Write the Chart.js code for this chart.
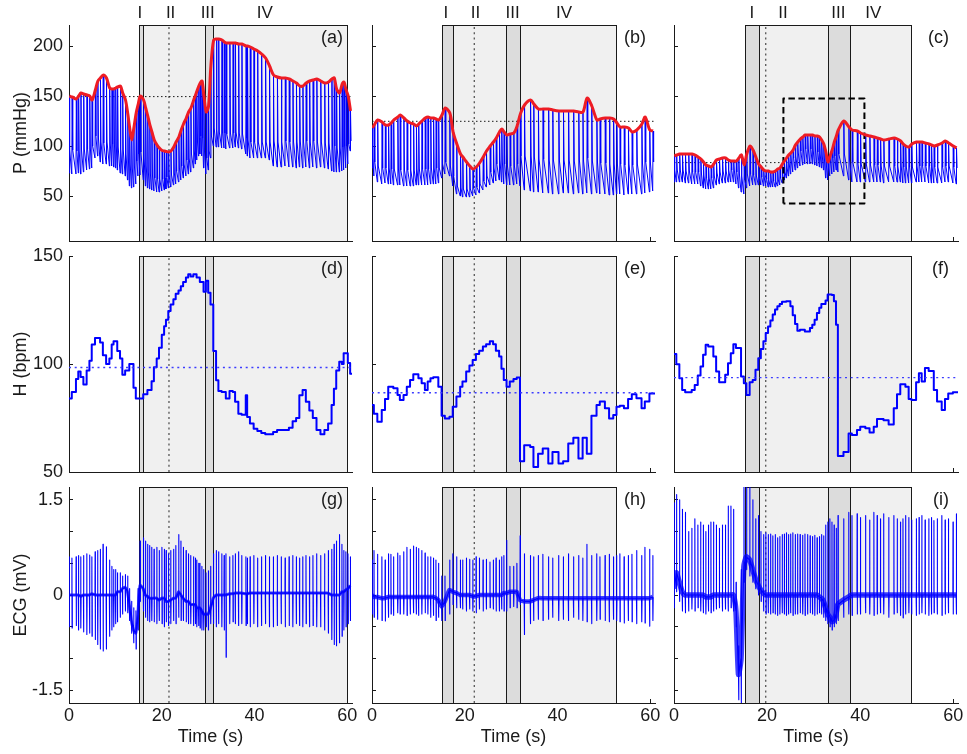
<!DOCTYPE html>
<html>
<head>
<meta charset="utf-8">
<title>Pressure, heart rate and ECG</title>
<script src="https://cdn.jsdelivr.net/npm/chart.js"></script>
<style>
  body { margin: 0; background: #fff; }
  #fig { position: relative; width: 967px; height: 754px; overflow: hidden; background: #fff; }
  #fig canvas { position: absolute; }
</style>
</head>
<body>
<div id="fig"></div>
<script>
// ---- subject 1 : panels (a) (d) (g) ----  one entry per beat
const t1 = [0,0.6,1.5,2,2.5,3.1,3.8,4.4,4.9,5.6,
  6.15,6.7,7.3,8,8.7,9.2,9.6,10,10.4,11,
  11.5,12.1,12.6,13,13.45,13.9,14.4,14.85,15.3,16,
  16.45,16.9,17.35,17.8,18.3,18.9,19.4,20,20.5,20.9,
  21.4,21.9,22.5,23,23.6,24.1,24.6,25.2,25.7,26.2,
  26.8,27.2,27.5,27.9,28.2,28.6,29,29.5,30,30.5,
  31.1,31.7,32.2,32.9,33.4,33.8,34.6,35.3,35.8,36.5,
  37.2,38.1,38.4,39,39.8,40.6,41.45,42.3,43.15,44,
  44.85,45.7,46.55,47.4,48.2,48.95,49.65,50.35,51.05,51.8,
  52.55,53.35,54.2,55.05,55.85,56.6,57.1,57.6,58.25,58.8,
  59.2,59.65,60.1,60.6];
const hr1 = [84,87,93,96.5,94,90.5,97,101.5,109,112,
  112,110,104,100,102.5,109,110.5,110.5,106,102.5,
  95,97,97,100,100,89,84,84,84,86,
  86,88,88,92,98.5,102.5,107.5,113.5,117.5,120.5,
  124.5,127.5,130,132.5,134,136,138,140,141.5,140.5,
  141.5,141.5,140,140,138,138,133.5,138.5,133,127.5,
  106,92.5,87.5,87,87,84,87.5,87,82.5,77,
  76.5,85.5,75.5,72.5,70,69,68,67.5,67.5,68.5,
  69.5,69.5,69.5,70.5,73.5,75,85.5,88,82.5,78.5,
  75,69.5,67.5,69.5,72.5,81,88.5,97,101,100,
  105,105,100.5,95.5];
const sys1 = [150,149,147,150,153,152,151,150,146,156,
  165,168,171,168,158,157,157,158,159,160,
  153,146,132,118,106,118,133,142,150,146,
  138,130,121,114,106,101,98,95.5,95,94.5,
  94,95,99,104,109,116,122,128,134,138,
  146,151,155,160,163,165,150,134,140,180,
  206,207,207,206,204,203,203,203,203,202,
  202,200,200,199,197,195,192,188,180,171,
  169,168,168,167,165,163,160,160,163,165,
  166,167,165,163,164,167,168,157,153,162,
  164,156,150,135];
const dia1 = [73,72,72,73,72,74,76,77,78,88,
  90,84,82,82,80,80,79,78,76,73,
  72,70,66,60,58,59,62,70,71,66,
  60,58,57,56,55,54,54,55,56,57,
  58,59,61,62,64,66,68,70,72,74,
  78,82,86,90,92,90,78,72,76,88,
  100,99,99,98,98,97,98,98,99,98,
  97,92,90,88,88,88,88,88,86,80,
  79,79,80,79,79,78,79,78,79,78,
  79,78,79,78,77,75,74,74,74,75,
  76,78,82,95];
const dic1 = [96,96,95,95,96,97,97,98,100,110,
  108,104,103,104,102,102,101,100,99,97,
  96,92,88,82,78,80,85,92,94,88,
  80,74,72,70,68,67,67,67,68,69,
  70,71,73,75,78,80,82,86,88,92,
  96,100,104,108,110,108,95,88,95,110,
  118,116,114,113,113,112,113,113,114,113,
  112,108,106,104,104,104,104,104,104,105,
  104,104,105,104,104,104,105,104,105,104,
  105,104,104,103,103,100,100,98,98,99,
  100,100,102,105];
const ecgR1 = [.60,.58,.60,.62,.60,.62,.65,.63,.60,.68,
  .70,.72,.80,.76,.55,.45,.40,.40,.35,.35,
  .30,.32,.30,.10,-.10,-.20,-.25,.10,.85,.90,
  .85,.80,.78,.75,.72,.75,.70,.75,.72,.70,
  .65,.70,.72,.78,.95,.85,.75,.70,.65,.62,
  .60,.58,.55,.50,.50,.45,.40,.35,.38,.45,
  .65,.70,.68,.65,.62,.65,.60,.62,.65,.68,
  .62,.60,.58,.60,.62,.58,.60,.62,.60,.60,
  .62,.60,.58,.60,.62,.60,.58,.60,.62,.60,
  .62,.65,.62,.65,.70,.72,.80,.85,.95,.80,
  .70,.68,.65,.60];
const ecgS1 = [-.50,-.52,-.48,-.55,-.52,-.58,-.62,-.60,-.65,-.70,
  -.78,-.85,-.88,-.85,-.65,-.55,-.50,-.45,-.42,-.35,
  -.30,-.25,-.28,-.40,-.60,-.75,-.85,-.55,-.10,-.25,
  -.35,-.40,-.42,-.40,-.42,-.45,-.40,-.45,-.50,-.42,
  -.48,-.45,-.40,-.45,-.35,-.40,-.40,-.42,-.45,-.45,
  -.48,-.45,-.50,-.48,-.52,-.55,-.55,-.50,-.55,-.45,
  -.45,-.50,-.45,-.50,-.55,-.98,-.45,-.42,-.45,-.48,
  -.45,-.48,-.45,-.50,-.45,-.50,-.48,-.45,-.50,-.50,
  -.48,-.45,-.50,-.48,-.50,-.45,-.48,-.50,-.45,-.50,
  -.48,-.50,-.50,-.55,-.60,-.70,-.78,-.80,-.75,-.65,
  -.55,-.50,-.45,-.40];
const ecgB1 = [0,0,0,0,-.02,0,0,0,.02,0,
  0,0,0,0,0,0,0,0,.05,.05,
  .10,.12,.05,-.15,-.40,-.55,-.60,-.30,.15,.10,
  0,-.02,-.05,-.05,-.05,-.05,-.08,-.05,-.05,-.10,
  -.10,-.08,-.05,-.05,.05,0,-.05,-.10,-.10,-.15,
  -.15,-.15,-.20,-.20,-.20,-.25,-.30,-.30,-.30,-.20,
  -.05,0,0,0,0,0,.02,.02,.03,.03,
  .03,.02,.02,.03,.03,.03,.03,.03,.03,.03,
  .03,.03,.03,.03,.03,.03,.03,.03,.03,.03,
  .03,.03,.03,.03,.03,0,0,0,0,.05,
  .05,.08,.10,.15];

// ---- subject 2 : panels (b) (e) (h) ----
const t2 = [0,0.4,1.15,2.1,2.8,3.5,4.05,4.6,5.5,6,
  6.8,7.5,8.2,8.9,9.5,10,10.7,11.4,12,12.6,
  13.2,13.75,14.3,15,15.7,16.7,17.4,18.2,19,19.5,
  20.3,21,21.7,22.4,23.1,23.9,24.6,25.4,26.1,26.7,
  27.4,27.9,28.4,29,29.7,30.5,31.2,31.9,32.8,34.1,
  34.8,35.8,36.8,38,38.9,40.2,41.2,42.3,43.4,44.5,
  45.4,46.3,47.3,48.4,49.1,50.2,51.1,52,52.7,53.4,
  54.3,55.2,56,57,58.1,58.8,59.8,60.5];
const hr2 = [81,77,73.3,78.7,83.8,89.5,89.5,88.8,85.7,83.3,
  85.7,89.5,92.6,95.3,95.3,93.4,91.1,88,91.9,93.4,
  93.9,93.9,89.5,76,74.8,75.6,80.2,84.9,89.5,91.9,
  96.5,99.3,101.9,104.6,106.1,108.1,109.2,110.5,109.2,106.1,
  103.5,97.8,92.6,89.5,91.9,93.1,93.7,55,62.4,61.6,
  52.3,58.5,60.9,53.9,59.3,53.9,55,63.2,65.8,56.2,
  65.8,58.5,76,81,82.6,79.5,74.8,76.4,80.2,80.7,
  79.5,83.8,86,84.1,79.5,82.6,86.4,86.4];
const sys2 = [118,121,126,124,121,121,123,126,129,131,
  128,125,123,122,120,122,125,128,129,128,
  128,127,126,131,138,133,114,102,92,89,
  84,80,77,79,83,89,95,100,104,108,
  114,117,114,111,112,113,120,132,141,146,
  142,137,137,137,136,135,135,135,135,134,
  134,148,140,126,127,128,128,127,123,119,
  119,118,114,116,122,129,116,115];
const dia2 = [78,70,64,62,63,62,62,61,61,61,
  60,60,60,60,61,61,61,61,61,62,
  62,62,63,68,72,70,60,52,50,49,
  49,49,50,51,53,56,59,61,63,65,
  66,64,62,61,61,61,62,60,56,55,
  54,54,53,53,52,52,53,53,52,53,
  52,53,52,53,52,52,51,51,52,52,
  51,52,52,52,52,53,54,55];
const dic2 = [88,84,80,78,78,78,77,77,77,76,
  76,76,76,76,77,77,77,77,77,78,
  78,78,78,82,84,80,70,60,58,57,
  57,57,58,59,62,65,70,74,78,82,
  86,84,82,80,80,80,82,90,90,90,
  89,87,87,86,86,85,86,86,85,86,
  85,88,85,84,83,83,82,82,82,82,
  81,82,81,82,83,84,84,84];
const ecgR2 = [.55,.70,.64,.60,.55,.65,.64,.60,.66,.62,
  .68,.75,.72,.77,.75,.73,.70,.66,.60,.60,
  .58,.55,.50,.30,.30,.55,.65,.60,.55,.55,
  .58,.56,.55,.60,.58,.55,.56,.52,.55,.58,
  .55,.60,.62,.86,.45,.45,.50,.93,.65,.62,
  .60,.62,.64,.60,.58,.62,.60,.65,.60,.62,
  .58,.80,.62,.65,.60,.62,.64,.60,.62,.65,
  .60,.62,.64,.70,.62,.75,.72,.62];
const ecgS2 = [-.30,-.35,-.38,-.40,-.41,-.35,-.30,-.32,-.28,-.30,
  -.30,-.32,-.30,-.28,-.30,-.32,-.30,-.28,-.30,-.35,
  -.32,-.40,-.35,-.40,-.40,-.30,-.15,-.20,-.20,-.22,
  -.25,-.22,-.25,-.28,-.22,-.25,-.22,-.20,-.22,-.25,
  -.25,-.22,-.25,-.25,-.20,-.18,-.20,-.15,-.62,-.45,
  -.40,-.38,-.40,-.38,-.35,-.40,-.38,-.40,-.35,-.38,
  -.40,-.42,-.45,-.40,-.38,-.40,-.42,-.38,-.40,-.42,
  -.44,-.40,-.42,-.45,-.42,-.44,-.49,-.40];
const ecgB2 = [0,-.03,-.03,-.05,-.05,-.03,-.03,-.03,-.03,-.03,
  -.03,-.03,-.03,-.03,-.03,-.03,-.03,-.03,-.03,-.03,
  -.03,-.05,-.08,-.18,-.10,.08,.05,.03,0,0,
  0,0,-.02,-.02,0,0,0,0,0,0,
  0,0,.03,.03,.05,.05,.05,-.08,-.10,-.10,
  -.08,-.05,-.05,-.05,-.05,-.05,-.05,-.05,-.05,-.05,
  -.05,-.05,-.05,-.05,-.05,-.05,-.05,-.05,-.05,-.05,
  -.05,-.05,-.05,-.05,-.05,-.05,-.05,-.03];

// ---- subject 3 : panels (c) (f) (i) ----
const t3 = [0,0.5,1.15,1.75,2.4,3.1,3.8,4.45,5.1,5.7,
  6.25,6.8,7.35,7.9,8.45,9.05,9.7,10.35,11,11.6,
  12.2,12.75,13.3,13.85,14.4,15,15.55,16.25,16.9,17.5,
  18.1,18.65,19.2,19.7,20.2,20.7,21.2,21.7,22.2,22.7,
  23.2,23.65,24.1,24.55,25,25.5,26,26.5,27.05,27.6,
  28.1,28.65,29.2,29.7,30.2,30.7,31.2,31.65,32.1,32.55,
  33,33.45,33.9,34.35,34.8,35.2,36.4,37.5,38.2,39.3,
  40,41.1,42,42.9,43.6,44.3,45,46.1,47.2,47.9,
  48.6,49.15,49.7,50.4,51,52,52.6,53.2,53.9,54.7,
  55.25,55.8,56.5,57.5,58.2,58.9,59.9,60.6];
const hr3 = [104.6,99.9,93.4,88,86.9,86.9,88,90.3,94.7,98.8,
  104.3,108.9,108.1,108.1,103.5,96.5,91.6,91.6,95,100.4,
  105,109.2,107.4,107.4,94.2,91.1,85.7,91.6,92.6,97.3,
  102.7,107,110.5,114.3,117.4,120.1,122.9,125.2,126.7,127.8,
  128.8,128.8,129.1,129.1,126.7,122.6,118.5,115.4,115.9,115.9,
  115.1,115.1,116.7,118.2,120.5,123.6,126,127.8,127.8,129.4,
  132.2,132.2,131.9,129.1,118.2,57.4,59.3,67.8,67.1,69.4,
  70.9,70.2,68.3,70.9,74.5,74.5,74,72,79.5,86,
  90.6,90.6,89.5,83.8,83.3,91.6,95.7,91.9,98.1,96.8,
  96.8,88,82.6,78.7,83.8,86.4,86.9,86.9];
const sys3 = [90,91,92,92,92,92,92,91,89,87,
  84,81,80,79,82,86,87,88,88,86,
  85,85,85,88,91,81,92,100,96,89,
  82,79,76,75,75,74,74,75,77,78,
  82,85,88,91,93,96,101,104,107,109,
  111,111,111,111,110,110,109,106,102,94,
  84,90,96,104,110,116,125,119,116,115,
  113,111,110,109,108,107,106,107,108,107,
  105,102,100,99,102,104,104,104,103,102,
  101,100,101,103,105,103,100,98];
const dia3 = [64,64,64,64,63,63,62,62,62,60,
  58,57,57,57,58,61,62,63,63,64,
  64,64,62,58,54,52,58,60,61,61,
  61,61,60,60,59,59,59,59,60,61,
  63,66,68,70,72,74,76,78,80,81,
  82,82,82,82,81,80,79,78,76,68,
  66,70,72,74,76,74,70,66,64,64,
  64,64,64,64,64,64,63,64,64,64,
  64,63,63,63,63,64,64,64,64,63,
  63,63,63,63,64,64,63,62];
const dic3 = [76,76,76,76,75,75,74,74,74,72,
  70,68,68,68,70,73,74,75,75,76,
  76,76,74,72,70,66,72,72,71,70,
  69,69,68,67,66,65,65,65,66,68,
  71,74,78,82,85,88,90,93,95,96,
  97,97,97,96,95,94,92,90,88,80,
  78,84,88,90,92,92,92,86,84,83,
  82,82,81,81,81,80,80,80,80,80,
  80,79,79,79,79,80,80,80,80,80,
  79,79,79,79,80,80,79,78];
const ecgR3 = [1.45,1.58,1.5,1.35,1.3,1.0,1.05,1.2,1.1,1.15,
  1.1,1.0,1.1,1.15,1.15,1.1,1.05,1.1,1.1,1.4,
  1.4,1.35,.2,-.8,.4,1.8,1.8,1.8,1.5,1.2,
  1.25,1.0,.95,.98,.95,.96,.93,.95,.9,.92,
  .95,.96,.98,.95,.96,.98,.95,.96,.95,.94,
  .96,.95,.93,.92,.94,.9,.92,.95,.93,1.1,
  1.15,1.2,1.15,1.1,1.05,1.25,1.2,1.3,1.25,1.28,
  1.22,1.25,1.18,1.3,1.25,1.2,1.28,1.22,1.25,1.2,
  1.15,1.2,1.25,1.22,1.18,1.2,1.22,1.25,1.18,1.2,
  1.22,1.17,1.2,1.25,1.18,1.2,1.15,1.28];
const ecgS3 = [-.2,.05,-.1,-.25,-.28,-.25,-.22,-.25,-.2,-.25,
  -.28,-.3,-.25,-.28,-.25,-.22,-.2,-.25,-.22,-.25,
  -.2,-.25,-.5,-1.65,-1.7,.2,.4,.3,.2,.1,
  0,-.1,-.25,-.3,-.28,-.3,-.28,-.3,-.32,-.3,
  -.28,-.3,-.32,-.3,-.28,-.32,-.3,-.3,-.28,-.3,
  -.32,-.3,-.28,-.3,-.32,-.3,-.28,-.3,-.35,-.4,
  -.45,-.5,-.55,-.5,-.45,-.4,-.35,-.3,-.32,-.3,
  -.3,-.28,-.3,-.32,-.3,-.28,-.3,-.35,-.3,-.28,
  -.32,-.36,-.3,-.28,-.3,-.32,-.3,-.28,-.3,-.32,
  -.3,-.28,-.3,-.32,-.3,-.28,-.3,-.3];
const ecgB3 = [.1,.35,.2,.05,0,0,0,0,0,0,
  0,-.03,-.03,-.03,0,0,0,0,0,0,
  0,0,-.25,-1.25,-1.0,.45,.6,.55,.4,.25,
  .15,.08,.03,0,0,0,0,0,0,0,
  0,0,0,0,0,0,0,0,0,0,
  0,0,0,0,0,0,-.03,-.05,-.1,-.2,
  -.3,-.35,-.42,-.4,-.3,-.15,-.08,-.03,0,0,
  0,0,0,0,0,0,0,0,0,0,
  0,0,0,0,0,0,0,0,0,0,
  0,0,0,0,0,0,0,0];

// ---- phases (s) and reference levels, per subject ----
const iStart   = [15.15, 15.15, 15.24];
const iEnd     = [15.89, 17.39, 18.26];
const iiTime   = [21.55, 22.05, 19.7];
const iiiStart = [29.38, 28.82, 33.06];
const iiiEnd   = [31.1, 31.9, 37.72];
const ivEnd    = [59.86, 52.52, 50.95];
const phaseNames = ['I', 'II', 'III', 'IV'];
const phaseLabelT = [[15.3, 21.9, 29.9, 42.2], [15.9, 22.3, 30.3, 41.4], [16.7, 23.4, 35.3, 42.8]];
const pRef  = [149.4, 124.7, 83.4];
const hrRef = [98.4, 86.7, 93.7];
const ecgNoise = [3, 4.5, 5.5];   // thickness (px) of the noisy ECG baseline band
const zoomBoxT = [23.5, 40.9];
const zoomBoxP = [42.4, 147.4];
const letters = [['(a)', '(b)', '(c)'], ['(d)', '(e)', '(f)'], ['(g)', '(h)', '(i)']];

const beatT = [t1, t2, t3], hrs = [hr1, hr2, hr3];
const sys = [sys1, sys2, sys3], dia = [dia1, dia2, dia3], dic = [dic1, dic2, dic3];
const ecgR = [ecgR1, ecgR2, ecgR3], ecgS = [ecgS1, ecgS2, ecgS3], ecgB = [ecgB1, ecgB2, ecgB3];

const T_MAX = 61;
const FONT = "'Liberation Sans', Arial, Helvetica, sans-serif";
const INK = '#1a1a1a';
Chart.defaults.font.family = FONT;
Chart.defaults.color = INK;

// panel layout (page pixels)
const colX = [[69, 352], [372, 655], [674, 958]];
const rowY = [[25, 241], [256, 472], [487, 703]];
const PAD_L = 69, PAD_T = 25, PAD_R = 12, PAD_B = 52;

const rows = [
  { min: 5, max: 221, ticks: [50, 100, 150, 200], labels: [50, 100, 150, 200], title: 'P (mmHg)' },
  { min: 50, max: 150, ticks: [50, 100, 150], labels: [50, 100, 150], title: 'H (bpm)' },
  { min: -1.7, max: 1.7, ticks: [-1.5, -1, -0.5, 0, 0.5, 1, 1.5], labels: [-1.5, 0, 1.5], title: 'ECG (mV)' }
];

const decor = {
  id: 'decor',
  beforeDatasetsDraw(chart, args, o) {
    const { ctx, chartArea: a } = chart;
    const x = chart.scales.x;
    const px = v => Math.round(x.getPixelForValue(v)) + 0.5;
    const top = Math.round(a.top) + 0.5, bot = Math.round(a.bottom) + 0.5;
    ctx.save();
    ctx.strokeStyle = INK;
    ctx.lineWidth = 1;
    const box = (t0, t1, fill) => {
      ctx.fillStyle = fill;
      ctx.fillRect(px(t0), top, px(t1) - px(t0), bot - top);
      ctx.strokeRect(px(t0), top, px(t1) - px(t0), bot - top);
    };
    box(iStart[o.k], ivEnd[o.k], '#f0f0f0');
    box(iStart[o.k], iEnd[o.k], '#dcdcdc');
    box(iiiStart[o.k], iiiEnd[o.k], '#dcdcdc');
    ctx.restore();
  },
  afterDraw(chart, args, o) {
    const { ctx, chartArea: a } = chart;
    ctx.save();
    ctx.fillStyle = INK;
    ctx.font = '18px ' + FONT;
    ctx.textAlign = 'right';
    ctx.textBaseline = 'alphabetic';
    ctx.fillText(o.letter, a.right - 9, a.top + 18);
    if (o.top) {
      ctx.font = '17px ' + FONT;
      ctx.textAlign = 'center';
      phaseNames.forEach((n, j) => {
        ctx.fillText(n, chart.scales.x.getPixelForValue(phaseLabelT[o.k][j]), a.top - 7);
      });
    }
    ctx.restore();
  }
};

function iiLine(k, r) {
  return { data: [{ x: iiTime[k], y: r.min }, { x: iiTime[k], y: r.max }],
    borderColor: '#555', borderWidth: 1.3, borderDash: [2, 3.3], order: 6 };
}

function pressureSets(k) {
  const wave = [], env = [];
  beatT[k].forEach((t, i) => {
    wave.push({ x: t, y: dia[k][i] }, { x: t + 0.08, y: sys[k][i] }, { x: t + 0.2, y: dic[k][i] });
    env.push({ x: t + 0.08, y: sys[k][i] });
  });
  const sets = [
    { data: env, borderColor: '#ee1c24', borderWidth: 3, tension: 0.3, order: 0 },
    { data: wave, borderColor: '#0000ff', borderWidth: 1, order: 3 },
    { data: [{ x: 0, y: pRef[k] }, { x: T_MAX, y: pRef[k] }], borderColor: INK, borderWidth: 1, borderDash: [1.5, 2.5], order: 4 },
    iiLine(k, rows[0])
  ];
  if (k === 2) {
    sets.push({ data: [
      { x: zoomBoxT[0], y: zoomBoxP[0] }, { x: zoomBoxT[0], y: zoomBoxP[1] },
      { x: zoomBoxT[1], y: zoomBoxP[1] }, { x: zoomBoxT[1], y: zoomBoxP[0] },
      { x: zoomBoxT[0], y: zoomBoxP[0] }],
      borderColor: '#000', borderWidth: 2, borderDash: [6.5, 3.5], order: 0 });
  }
  return sets;
}

function heartSets(k) {
  const pts = beatT[k].map((t, i) => ({ x: t, y: hrs[k][i] }));
  pts.push({ x: T_MAX, y: hrs[k][hrs[k].length - 1] });
  return [
    { data: [{ x: 0, y: hrRef[k] }, { x: T_MAX, y: hrRef[k] }], borderColor: '#3c3cff', borderWidth: 1.4, borderDash: [2, 3.7], order: 1 },
    { data: pts, borderColor: '#0000ff', borderWidth: 2, stepped: 'before', order: 2 },
    iiLine(k, rows[1])
  ];
}

function ecgSets(k) {
  const pts = [], base = [];
  beatT[k].forEach((t, i) => {
    pts.push({ x: t, y: ecgB[k][i] }, { x: t + 0.03, y: ecgR[k][i] },
             { x: t + 0.065, y: ecgS[k][i] }, { x: t + 0.11, y: ecgB[k][i] });
    base.push({ x: t, y: ecgB[k][i] });
  });
  return [
    { data: pts, borderColor: '#0000ff', borderWidth: 1.1, order: 2 },
    { data: base, borderColor: 'rgba(0,0,255,0.75)', borderWidth: ecgNoise[k], tension: 0.2, order: 3 },
    iiLine(k, rows[2])
  ];
}

const fig = document.getElementById('fig');

function panel(ci, ri, datasets) {
  const [x0, x1] = colX[ci], [y0, y1] = rowY[ri];
  const r = rows[ri];
  const cv = document.createElement('canvas');
  cv.width = x1 - x0 + PAD_L + PAD_R;
  cv.height = y1 - y0 + PAD_T + PAD_B;
  cv.style.left = (x0 - PAD_L) + 'px';
  cv.style.top = (y0 - PAD_T) + 'px';
  fig.appendChild(cv);
  const tickFont = { size: 18, family: FONT };
  new Chart(cv, {
    type: 'line',
    data: { datasets },
    options: {
      responsive: false,
      animation: false,
      devicePixelRatio: 1,
      events: [],
      layout: { padding: { top: PAD_T, right: PAD_R, left: 0, bottom: 0 } },
      elements: {
        point: { radius: 0 },
        line: { fill: false, borderJoinStyle: 'round', borderCapStyle: 'butt' }
      },
      plugins: {
        legend: { display: false },
        tooltip: { enabled: false },
        decor: { k: ci, letter: letters[ri][ci], top: ri === 0 }
      },
      scales: {
        x: {
          type: 'linear', min: 0, max: T_MAX,
          afterBuildTicks: s => { s.ticks = [0, 20, 40, 60].map(v => ({ value: v })); },
          afterFit: s => { s.height = PAD_B; },
          grid: { display: true, drawOnChartArea: false, drawTicks: true, tickLength: -4, color: INK, lineWidth: 1 },
          border: { display: true, color: INK, width: 1 },
          ticks: { display: ri === 2, padding: 6, font: tickFont, color: INK, maxRotation: 0, autoSkip: false,
                   callback: v => String(v) },
          title: { display: ri === 2, text: 'Time (s)', font: tickFont, color: INK, padding: { top: 0, bottom: 7 } }
        },
        y: {
          type: 'linear', min: r.min, max: r.max,
          afterBuildTicks: s => { s.ticks = r.ticks.map(v => ({ value: v })); },
          afterFit: s => { s.width = PAD_L; },
          grid: { display: true, drawOnChartArea: false, drawTicks: true, tickLength: -4, color: INK, lineWidth: 1 },
          border: { display: true, color: INK, width: 1 },
          ticks: { display: ci === 0, padding: 10, font: tickFont, color: INK, autoSkip: false,
                   callback: v => (r.labels.includes(v) ? String(v) : '') },
          title: { display: ci === 0, text: r.title, font: tickFont, color: INK, padding: { top: 10, bottom: 0 } }
        }
      }
    },
    plugins: [decor]
  });
}

for (let k = 0; k < 3; k++) {
  panel(k, 0, pressureSets(k));
  panel(k, 1, heartSets(k));
  panel(k, 2, ecgSets(k));
}
</script>
</body>
</html>
